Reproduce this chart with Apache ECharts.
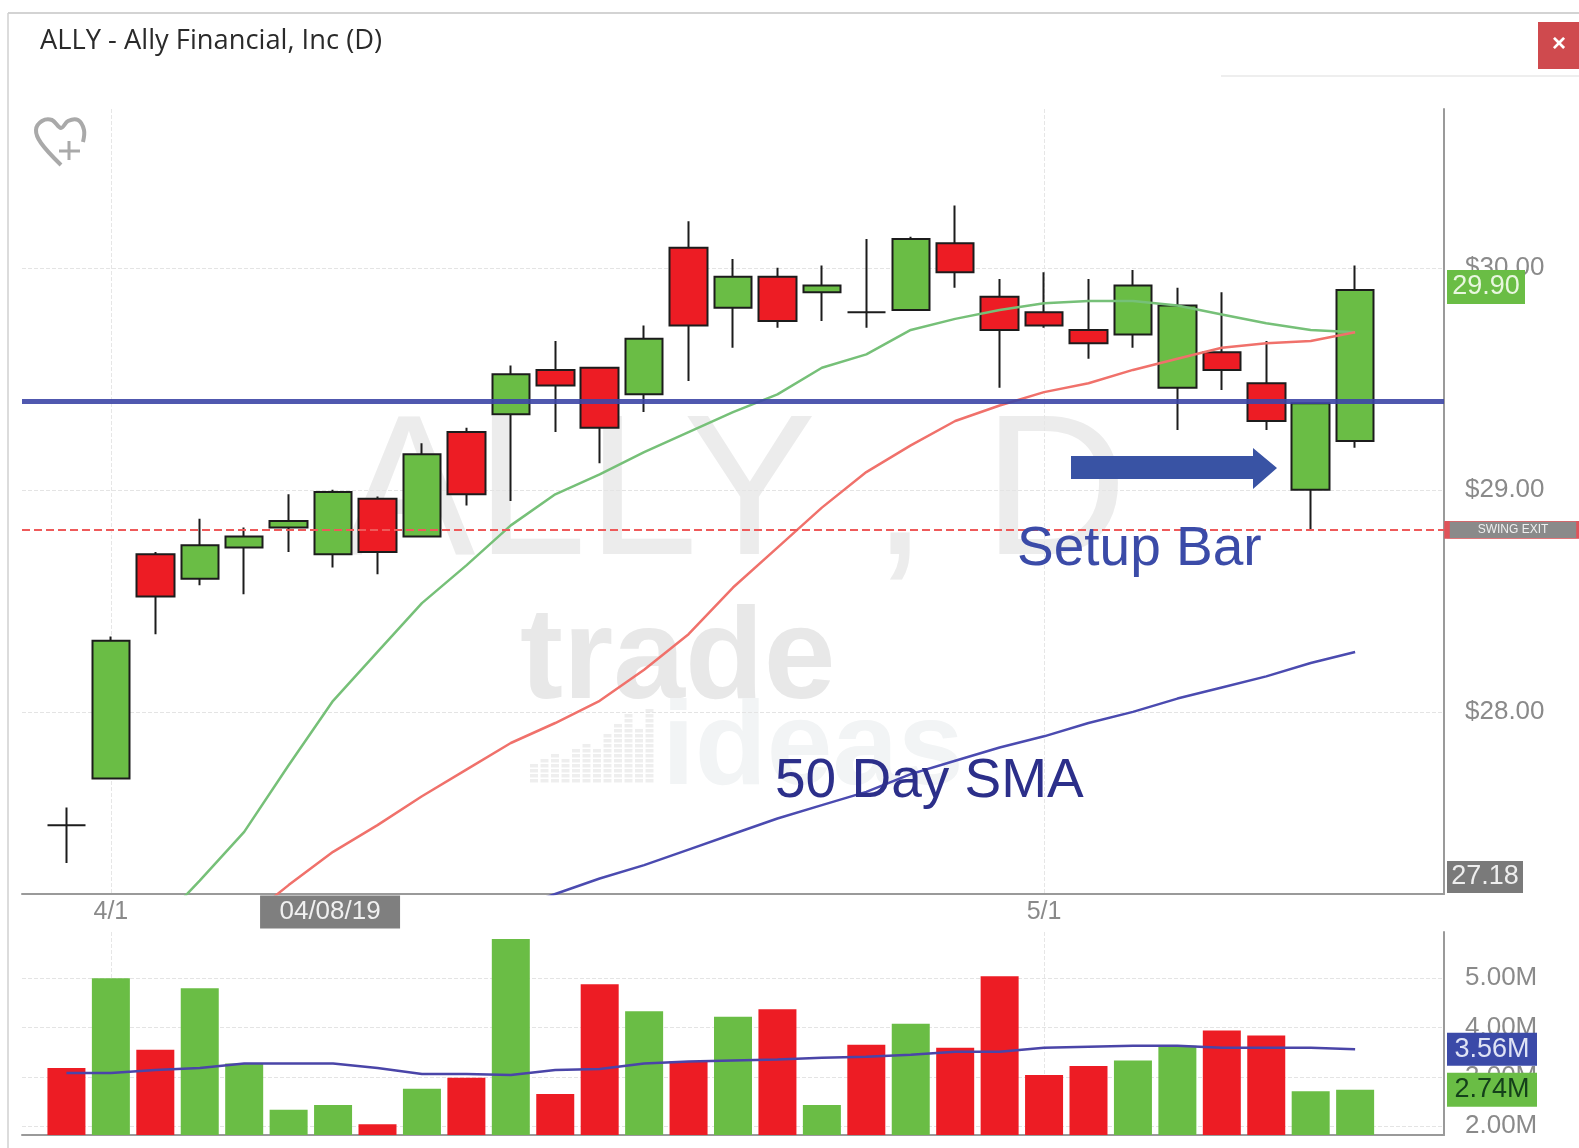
<!DOCTYPE html>
<html>
<head>
<meta charset="utf-8">
<style>
html,body{margin:0;padding:0;background:#fff;}
#c{width:1579px;height:1148px;filter:blur(0.7px);}
</style>
<script src="https://cdn.jsdelivr.net/npm/echarts@6/dist/echarts.min.js"></script>
</head>
<body>
<div id="c"></div>
<script>
const dates = ['3/29','4/1','4/2','4/3','4/4','4/5','4/8','4/9','4/10','4/11','4/12','4/15','4/16','4/17','4/18','4/22','4/23','4/24','4/25','4/26','4/29','4/30','5/1','5/2','5/3','5/6','5/7','5/8','5/9','5/10'];
const opens  = [27.49,27.70,28.71,28.60,28.74,28.83,28.71,28.96,28.79,29.26,29.34,29.54,29.55,29.43,30.09,29.82,29.96,29.89,29.80,29.81,30.11,29.87,29.80,29.72,29.70,29.46,29.62,29.48,29.00,29.22];
const closes = [27.49,28.32,28.52,28.75,28.79,28.86,28.99,28.72,29.16,28.98,29.52,29.47,29.28,29.68,29.74,29.96,29.76,29.92,29.80,30.13,29.98,29.72,29.74,29.66,29.92,29.83,29.54,29.31,29.39,29.90];
const lows   = [27.32,27.70,28.35,28.57,28.53,28.72,28.65,28.62,28.79,28.93,28.95,29.26,29.12,29.35,29.49,29.64,29.73,29.76,29.73,29.81,29.91,29.46,29.73,29.59,29.64,29.27,29.45,29.27,28.82,29.19];
const highs  = [27.57,28.34,28.72,28.87,28.83,28.98,29.00,28.97,29.21,29.28,29.56,29.67,29.55,29.74,30.21,30.04,30.00,30.01,30.13,30.14,30.28,29.95,29.98,29.95,29.99,29.91,29.89,29.67,29.39,30.01];
// moving averages: the first dates fall below the visible price range
const smaFast = [null,null,27.03,27.24,27.46,27.76,28.05,28.27,28.49,28.66,28.84,28.98,29.07,29.17,29.26,29.35,29.43,29.55,29.61,29.72,29.77,29.81,29.84,29.85,29.85,29.83,29.79,29.75,29.72,29.71];
const smaMid  = [null,null,null,null,27.06,27.22,27.37,27.49,27.62,27.74,27.86,27.95,28.05,28.19,28.35,28.56,28.74,28.92,29.08,29.20,29.31,29.38,29.44,29.48,29.54,29.59,29.64,29.66,29.67,29.71];
const sma50   = [null,null,null,null,null,null,null,null,null,null,27.11,27.18,27.25,27.31,27.38,27.45,27.52,27.58,27.64,27.72,27.78,27.84,27.89,27.95,28.00,28.06,28.11,28.16,28.22,28.27];
const volumes = [3.18,5.00,3.55,4.80,3.27,2.33,2.43,2.04,2.76,2.98,5.80,2.65,4.88,4.33,3.31,4.22,4.37,2.43,3.65,4.08,3.59,5.04,3.04,3.22,3.33,3.63,3.94,3.84,2.71,2.74];
const volumeSide = ['r','g','r','g','g','g','g','r','g','r','g','r','r','g','r','g','r','g','r','g','r','r','r','r','g','g','r','r','g','g'];
const volumeAvg = [3.08,3.08,3.14,3.18,3.27,3.27,3.27,3.18,3.06,3.06,3.04,3.14,3.16,3.27,3.31,3.33,3.35,3.39,3.41,3.45,3.51,3.51,3.59,3.61,3.63,3.63,3.59,3.59,3.59,3.56];
const priceTicks = [28,29,30];
const volumeTicks = [2,3,4,5];
const resistanceLevel = 29.40;
const swingExit = 28.82;
const priceFloor = 27.18;
const lastPrice = 29.90;
const lastVolume = 2.74;
const lastVolumeAvg = 3.56;

const GREEN='#6abd45', RED='#ed1c24', BLUE='#3b4aa8', GREY='#9a9a9a', LABEL='#8a8a8a';
const NARROW='"Liberation Sans Narrow","Liberation Sans",sans-serif';
const lead=[''], trail=['',''];
const cats=lead.concat(dates,trail);
const padded=a=>[null].concat(a);
const showDate=(i,v)=>v==='4/1'||v==='5/1';

const candleData=[['-','-','-','-']].concat(dates.map((d,i)=>[opens[i],closes[i],lows[i],highs[i]]));
const volumeData=[null].concat(volumes.map((v,i)=>({value:v,itemStyle:{color:volumeSide[i]==='g'?GREEN:RED}})));

function tag(coord,text,w,h,color,textColor,size,dy,extra){
  return Object.assign({
    coord:coord,symbol:'rect',symbolSize:[w,h],symbolOffset:[w/2+3,dy||0],
    itemStyle:{color:color},
    label:{show:true,position:'inside',formatter:text,color:textColor,fontSize:size,fontFamily:NARROW}
  },extra||{});
}

// small dotted logo of the faint watermark
const logoHeights=[4,5,6,5,7,8,7,10,12,14,11,15];
const logoEls=[];
logoHeights.forEach((h,c)=>{for(let r=0;r<h;r++){logoEls.push({type:'rect',z:0,silent:true,shape:{x:530+c*10.5,y:779-r*5,width:8,height:3.5},style:{fill:'#eeeeee'}});}});

const heartPoints=[[61,165],[41,143],[36,130],[42,121],[52,120],[61,128],[68,121],[78,120],[84,130],[83,142]];

const option={
  animation:false,
  backgroundColor:'#fff',
  title:{text:'ALLY - Ally Financial, Inc (D)',left:35,top:23,textStyle:{fontFamily:'"Open Sans",sans-serif',fontWeight:'normal',fontSize:27.3,color:'#2a2a2a'}},
  grid:[
    {left:22,right:135,top:109,height:785},
    {left:22,right:135,top:932,height:203}
  ],
  xAxis:[
    {type:'category',gridIndex:0,data:cats,boundaryGap:false,
      axisLine:{show:true,lineStyle:{color:GREY,width:2}},axisTick:{show:false},
      axisLabel:{show:true,interval:showDate,color:LABEL,fontSize:25,fontFamily:NARROW,margin:6},
      splitLine:{show:true,interval:showDate,lineStyle:{color:'#e6e6e6',type:'dashed'}}},
    {type:'category',gridIndex:1,data:cats,boundaryGap:false,
      axisLine:{show:true,lineStyle:{color:GREY,width:2}},axisTick:{show:false},axisLabel:{show:false},
      splitLine:{show:true,interval:showDate,lineStyle:{color:'#e6e6e6',type:'dashed'}}}
  ],
  yAxis:[
    {type:'value',gridIndex:0,position:'right',min:27.18,max:30.715,scale:true,
      axisLine:{show:true,onZero:false,lineStyle:{color:GREY,width:2}},
      axisTick:{show:false,customValues:priceTicks},
      axisLabel:{customValues:priceTicks,formatter:v=>'$'+v.toFixed(2),color:LABEL,fontSize:26,fontFamily:NARROW,margin:21,showMinLabel:true,showMaxLabel:true},
      splitLine:{show:true,lineStyle:{color:'#e4e4e4',type:'dashed'}}},
    {type:'value',gridIndex:1,position:'right',min:1.82,max:5.94,scale:true,
      axisLine:{show:true,onZero:false,lineStyle:{color:GREY,width:2}},
      axisTick:{show:false,customValues:volumeTicks},
      axisLabel:{customValues:volumeTicks,formatter:v=>v.toFixed(2)+'M',color:LABEL,fontSize:26,fontFamily:NARROW,margin:21,showMinLabel:true,showMaxLabel:true},
      splitLine:{show:true,lineStyle:{color:'#e4e4e4',type:'dashed'}}}
  ],
  series:[
    {name:'Price',type:'candlestick',xAxisIndex:0,yAxisIndex:0,z:2,barWidth:38,data:candleData,
      itemStyle:{color:GREEN,color0:RED,borderColor:'#1c1c1c',borderColor0:'#1c1c1c',borderColorDoji:'#1c1c1c',borderWidth:2}},
    {name:'SMA fast',type:'line',xAxisIndex:0,yAxisIndex:0,z:3,showSymbol:false,data:padded(smaFast),lineStyle:{color:'#76c078',width:2.5}},
    {name:'SMA mid',type:'line',xAxisIndex:0,yAxisIndex:0,z:3,showSymbol:false,data:padded(smaMid),lineStyle:{color:'#f0716b',width:2.5}},
    {name:'SMA 50',type:'line',xAxisIndex:0,yAxisIndex:0,z:3,showSymbol:false,data:padded(sma50),lineStyle:{color:'#4b4bb0',width:2.5}},
    {name:'Levels',type:'line',xAxisIndex:0,yAxisIndex:0,z:6,showSymbol:false,data:[],
      markLine:{silent:true,symbol:'none',label:{show:false},animation:false,data:[
        {yAxis:resistanceLevel,lineStyle:{color:'#3d46a6',width:5,type:'solid',opacity:0.9}},
        {yAxis:swingExit,lineStyle:{color:'#ee5a5a',width:2,type:'dashed'}}
      ]},
      markPoint:{silent:true,animation:false,data:[
        tag([cats.length-1,lastPrice],lastPrice.toFixed(2),78,34,GREEN,'#e9f7e0',27,-3),
        tag([cats.length-1,swingExit],'SWING EXIT',132,17,'#8a8a8a','#efefef',12,0,{itemStyle:{color:'#8a8a8a',borderColor:'#e0545a',borderWidth:2}}),
        tag([cats.length-1,priceFloor],priceFloor.toFixed(2),76,32,'#7a7a7a','#eeeeee',27,-17),
        {coord:['4/8',priceFloor],symbol:'rect',symbolSize:[140,33],symbolOffset:[-3,18],itemStyle:{color:'#7f7f7f'},
         label:{show:true,position:'inside',formatter:'04/08/19',color:'#f0f0f0',fontSize:26,fontFamily:NARROW}}
      ]}},
    {name:'Volume',type:'bar',xAxisIndex:1,yAxisIndex:1,z:2,barWidth:38,data:volumeData},
    {name:'Volume average',type:'line',xAxisIndex:1,yAxisIndex:1,z:3,showSymbol:false,data:padded(volumeAvg),lineStyle:{color:'#4a45a8',width:2.5},
      markPoint:{silent:true,animation:false,data:[
        tag([cats.length-1,lastVolumeAvg],lastVolumeAvg.toFixed(2)+'M',90,33,BLUE,'#dfe3f5',27),
        tag([cats.length-1,lastVolume],lastVolume.toFixed(2)+'M',90,34,GREEN,'#14401a',27)
      ]}}
  ],
  graphic:[
    {type:'text',z:0,silent:true,left:342,top:399,style:{text:'ALLY , D',font:'200px "Liberation Sans"',fill:'#ececec'}},
    {type:'text',z:0,silent:true,left:520,top:598,style:{text:'trade',font:'bold 129px "Liberation Sans"',fill:'#e8e8e8'}},
    {type:'text',z:0,silent:true,left:662,top:692,style:{text:'ideas',font:'bold 118px "Liberation Sans"',fill:'#f2f4f5'}}
  ].concat(logoEls,[
    {type:'line',silent:true,shape:{x1:8,y1:13,x2:1579,y2:13},style:{stroke:'#c4c4c4',lineWidth:1.5}},
    {type:'line',silent:true,shape:{x1:8,y1:13,x2:8,y2:1148},style:{stroke:'#d0d0d0',lineWidth:1.5}},
    {type:'line',silent:true,shape:{x1:1221,y1:76,x2:1579,y2:76},style:{stroke:'#eeeeee',lineWidth:2}},
    {type:'rect',silent:true,shape:{x:1538,y:22,width:41,height:47},style:{fill:'#cf4a4e'}},
    {type:'text',silent:true,left:1552,top:32,style:{text:'×',font:'bold 24px "Liberation Sans"',fill:'#ffffff'}},
    {type:'polyline',silent:true,shape:{points:heartPoints,smooth:0.35},style:{fill:'none',stroke:'#a9a9a9',lineWidth:4}},
    {type:'line',silent:true,shape:{x1:69,y1:141,x2:69,y2:160},style:{stroke:'#a9a9a9',lineWidth:3}},
    {type:'line',silent:true,shape:{x1:59,y1:151,x2:80,y2:151},style:{stroke:'#a9a9a9',lineWidth:3}},
    {type:'polygon',z:20,silent:true,shape:{points:[[1071,456],[1253,456],[1253,448],[1277,468],[1253,489],[1253,479],[1071,479]]},style:{fill:'#3953a4'}},
    {type:'text',z:20,silent:true,left:1017,top:522,style:{text:'Setup Bar',font:'55px "Liberation Sans"',fill:'#3b4ba8'}},
    {type:'text',z:20,silent:true,left:775,top:754,style:{text:'50 Day SMA',font:'55px "Liberation Sans"',fill:'#2c2f8a'}}
  ])
};
echarts.init(document.getElementById('c'),null,{renderer:'canvas'}).setOption(option);
</script>
</body>
</html>
